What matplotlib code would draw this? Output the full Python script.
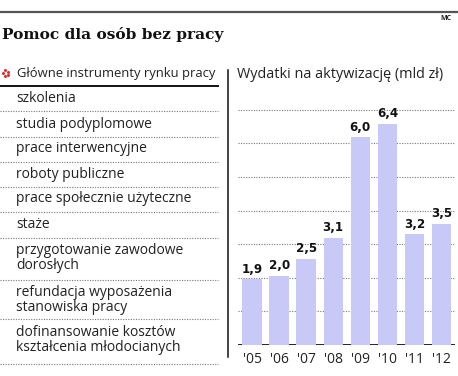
import matplotlib.pyplot as plt
import numpy as np

# dane
years = ["'05", "'06", "'07", "'08", "'09", "'10", "'11", "'12"]
spending = [1.9, 2.0, 2.5, 3.1, 6.0, 6.4, 3.2, 3.5]
instruments = [
    "szkolenia",
    "studia podyplomowe",
    "prace interwencyjne",
    "roboty publiczne",
    "prace społecznie użyteczne",
    "staże",
    "przygotowanie zawodowe\ndorosłych",
    "refundacja wyposażenia\nstanowiska pracy",
    "dofinansowanie kosztów\nkształcenia młodocianych",
]

W, H = 458, 376
TXT = '#222222'
BAR = '#c9c9f7'
FONT = 'Open Sans'


def fx(px):
    return px / W


def fy(py):
    return 1 - py / H


fig = plt.figure(figsize=(W / 100, H / 100), dpi=100)

# gorna linia i naglowek
fig.add_artist(plt.Line2D([0, 1], [fy(12), fy(12)], color='#555555', lw=1.6))
fig.text(fx(2), fy(35), "Pomoc dla osób bez pracy", family='DejaVu Serif',
         weight='bold', fontsize=11.1, color='#111111', va='center')
fig.text(fx(446), fy(18), "MC", family=FONT, fontsize=5, weight='bold', color=TXT,
         va='center', ha='center')

# lewa kolumna
for dx, dy in [(0, -3), (3, -1), (3, 2), (0, 3), (-2, 0)]:
    fig.add_artist(plt.Line2D([fx(5 + dx)], [fy(73 + dy)], marker='o', ms=1.2,
                              color='#e03030', lw=0))
fig.text(fx(17), fy(73), "Główne instrumenty rynku pracy", family=FONT, fontsize=9.4,
         color=TXT, va='center')
fig.add_artist(plt.Line2D([0, fx(218)], [fy(86), fy(86)], color='#111111', lw=1.4))

text_y = [99, 124, 149, 174, 199, 224, 258, 300, 340]
sep_y = [111, 137, 162, 187, 212, 238, 280, 319, 364]
for name, ty in zip(instruments, text_y):
    fig.text(fx(16), fy(ty), name, family=FONT, fontsize=10, color=TXT,
             va='center', linespacing=1.05)
for sy in sep_y:
    fig.add_artist(plt.Line2D([0, fx(218)], [fy(sy), fy(sy)], color='#777777',
                              lw=0.8, ls=(0, (1, 1.3))))

fig.add_artist(plt.Line2D([fx(228), fx(228)], [fy(70), fy(357)], color='#111111', lw=1.1))

# prawa kolumna - wykres
fig.text(fx(237), fy(74), "Wydatki na aktywizację (mld zł)", family=FONT, fontsize=10.4,
         color=TXT, va='center')

ax = fig.add_axes([fx(238), fy(345), fx(455) - fx(238), (345 - 110) / H])
x = np.arange(len(years))
ax.bar(x, spending, width=0.72, color=BAR, zorder=2)
ax.set_xlim(-0.52, len(years) - 0.5)
ax.set_ylim(0, 235 / 34.6)

for k in range(1, 8):
    ax.axhline(k * 33.6 / 34.6, color='#777777', lw=0.8, ls=(0, (1, 1.3)), zorder=1,
               clip_on=False)
ax.axhline(0, color='#111111', lw=2, zorder=1)

for xi, v in zip(x, spending):
    ax.text(xi, v + 0.1, f"{v:.1f}".replace('.', ','), ha='center', va='bottom',
            family='DejaVu Sans', weight='heavy', fontsize=8.6, color='#111111',
            clip_on=False, zorder=3)

ax.set_xticks(x)
ax.set_xticklabels(years, family=FONT, fontsize=10, color=TXT)
ax.tick_params(axis='x', length=0, pad=5)
ax.set_yticks([])
for s in ax.spines.values():
    s.set_visible(False)
ax.patch.set_alpha(0)

fig.savefig('out.png', dpi=100)
